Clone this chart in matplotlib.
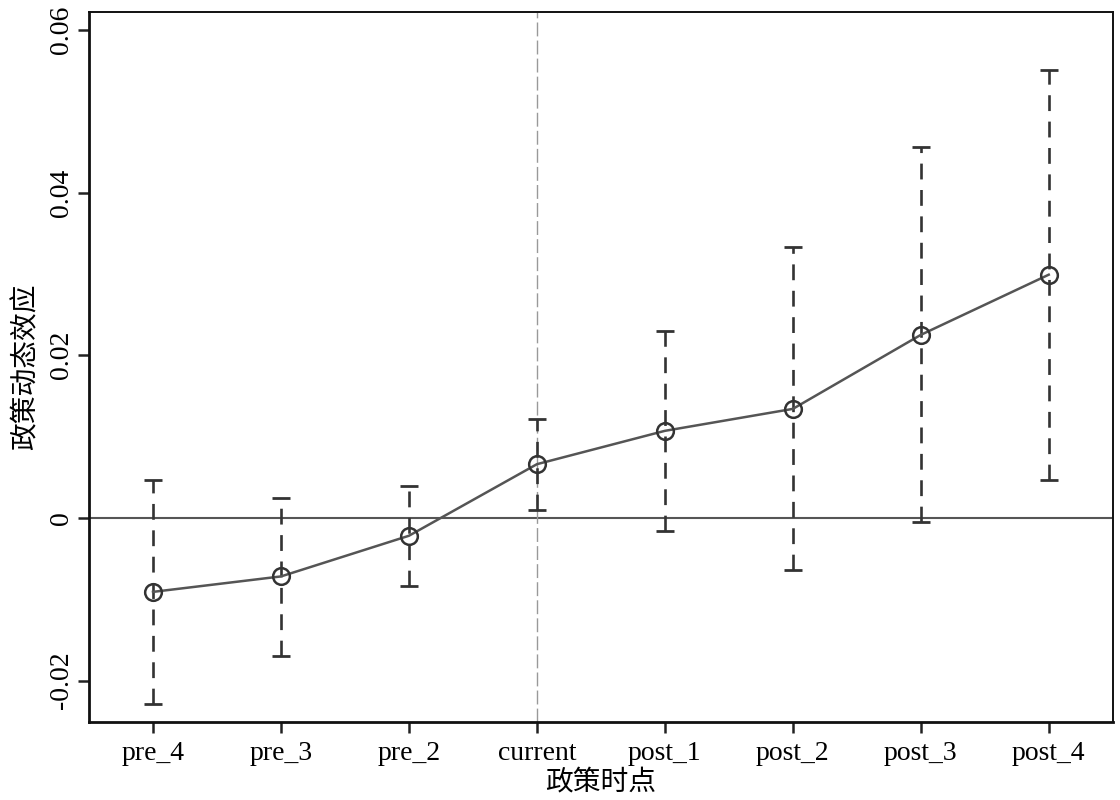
import numpy as np
import matplotlib.pyplot as plt

periods = ["pre_4", "pre_3", "pre_2", "current", "post_1", "post_2", "post_3", "post_4"]
coef = [-0.0091, -0.0072, -0.0022, 0.0066, 0.0107, 0.0134, 0.0225, 0.0299]
ci_low = [-0.0229, -0.0170, -0.0084, 0.0010, -0.0016, -0.0064, -0.0005, 0.0047]
ci_high = [0.0046, 0.0025, 0.0039, 0.0122, 0.0230, 0.0333, 0.0456, 0.0551]
yticks = [-0.02, 0, 0.02, 0.04, 0.06]
ytick_labels = ["-0.02", "0", "0.02", "0.04", "0.06"]

serif = ["Liberation Serif", "DejaVu Serif"]
cjk = ["Noto Sans CJK SC", "DejaVu Sans"]

fig = plt.figure(figsize=(11.2, 8), dpi=100)
ax = fig.add_axes([0.0795, 0.0975, 0.914, 0.8875])

x = np.arange(1, len(periods) + 1)
coef = np.array(coef)
yerr = np.vstack([coef - np.array(ci_low), np.array(ci_high) - coef])

ax.axhline(0, color="#555555", lw=1.5, zorder=1)
ax.axvline(4, color="#999999", lw=1.0, ls=(0, (10, 3)), zorder=1)

_, caps, bars = ax.errorbar(x, coef, yerr=yerr, fmt="none", ecolor="#333333",
                            elinewidth=1.9, capsize=6.5, capthick=2.0, zorder=2)
bars[0].set_linestyle((0, (6, 4)))

ax.plot(x, coef, color="#555555", lw=1.8, marker="o", markersize=12,
        markerfacecolor="none", markeredgecolor="#333333", markeredgewidth=1.8,
        zorder=3)

ax.set_xlim(0.5, 8.5)
ax.set_ylim(-0.0251, 0.0622)
ax.set_xticks(x)
ax.set_xticklabels(periods, fontsize=20, family=serif)
ax.set_yticks(yticks)
ax.set_yticklabels(ytick_labels, fontsize=20, family=serif, rotation=90, va="center")

ax.tick_params(axis="both", direction="out", length=8, width=1.8, color="#222222")
ax.tick_params(axis="x", pad=6)
ax.tick_params(axis="y", pad=3)

for side in ["left", "bottom"]:
    ax.spines[side].set_linewidth(2.0)
for side in ["top", "right"]:
    ax.spines[side].set_linewidth(1.4)
for s in ax.spines.values():
    s.set_color("#111111")

ax.set_xlabel("政策时点", fontsize=20, family=cjk, labelpad=0)
ax.set_ylabel("政策动态效应", fontsize=20, family=cjk, labelpad=6)

fig.savefig("out.png", dpi=100)
